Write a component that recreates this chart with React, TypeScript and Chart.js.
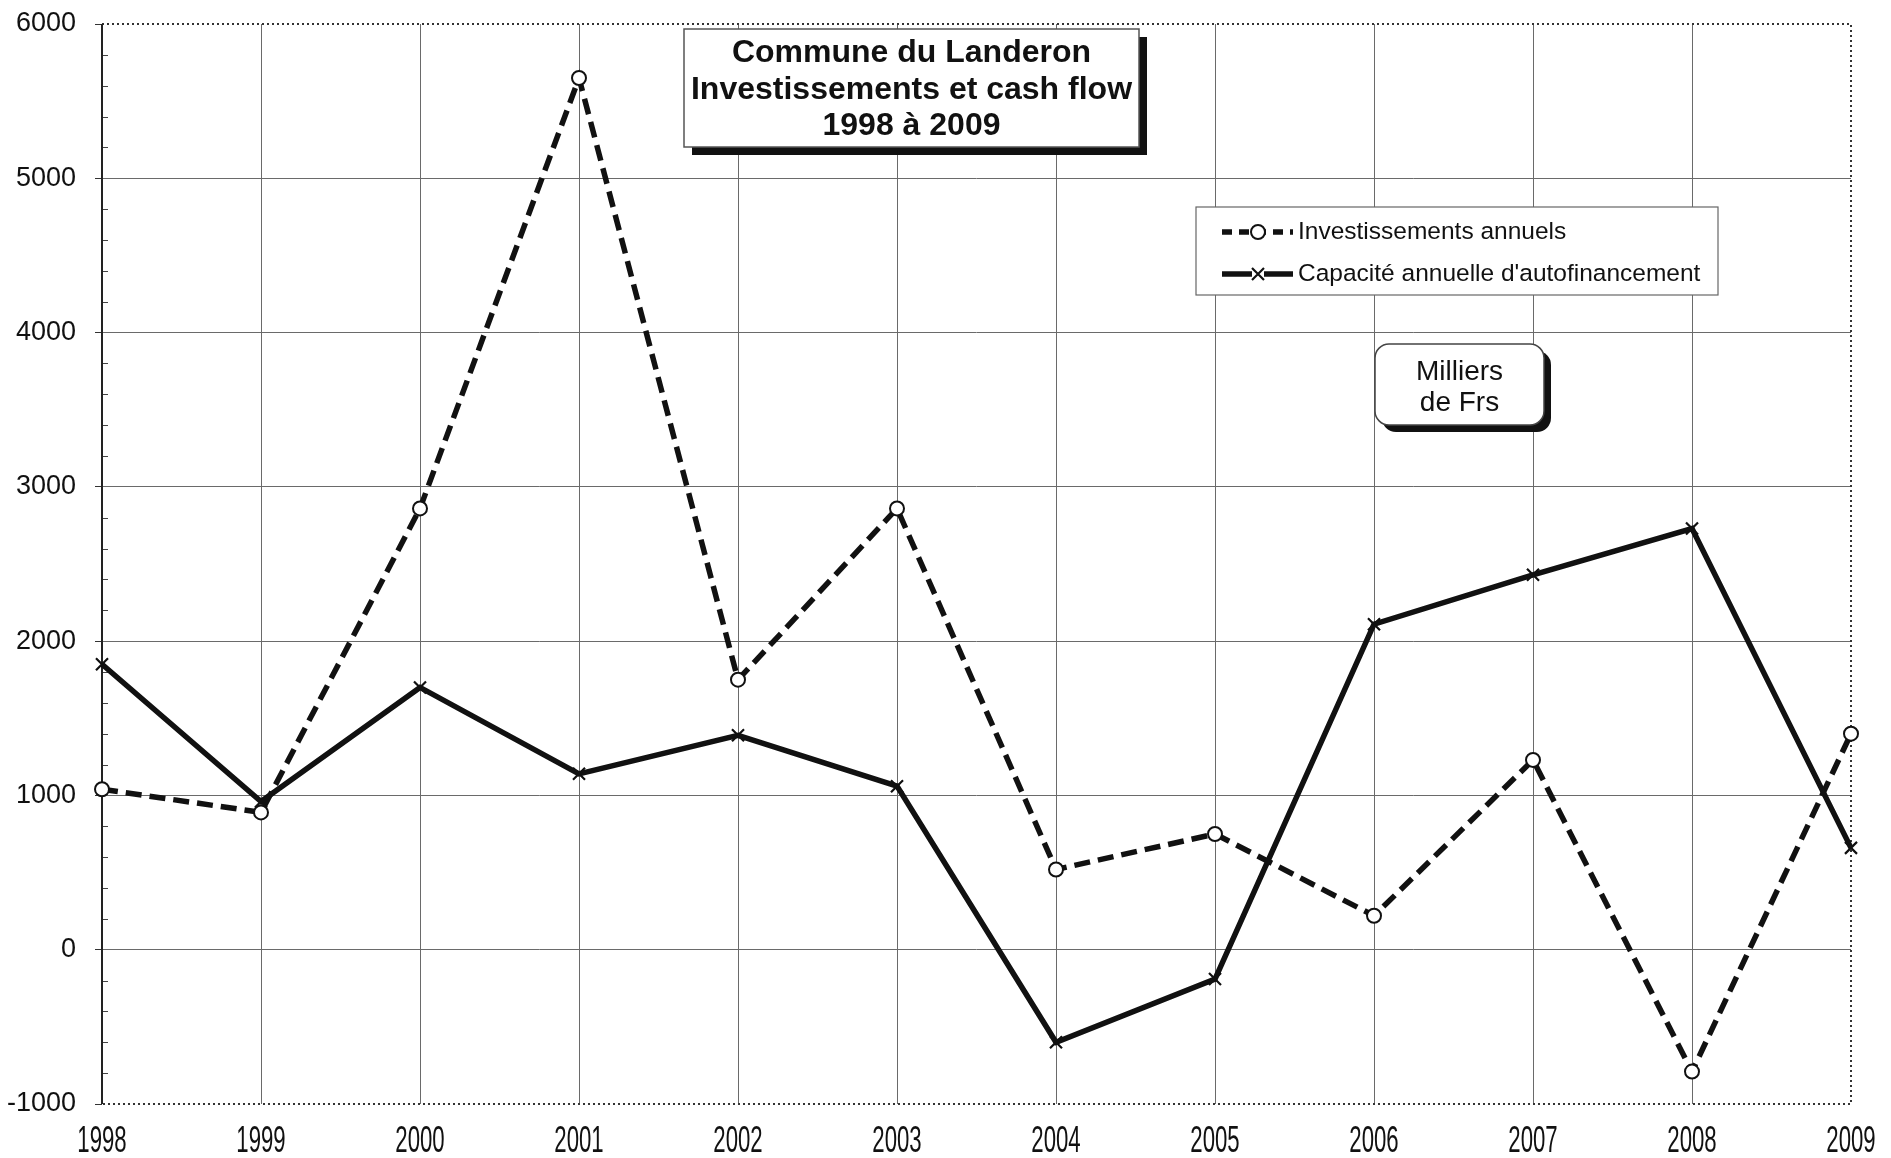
import React, { useEffect, useRef } from "react";
import { Chart, registerables } from "chart.js";

Chart.register(...registerables);

const years = ["1998", "1999", "2000", "2001", "2002", "2003", "2004", "2005", "2006", "2007", "2008", "2009"];
const investissements = [1040, 890, 2860, 5650, 1750, 2860, 520, 750, 220, 1230, -790, 1400];
const capacite = [1850, 960, 1700, 1140, 1390, 1060, -600, -190, 2110, 2430, 2730, 660];
const yMin = -1000;
const yMax = 6000;
const yStep = 1000;
const yMinorStep = 200;

const titleLines = ["Commune du Landeron", "Investissements et cash flow", "1998 à 2009"];
const unitLines = ["Milliers", "de Frs"];
const legendLabels = ["Investissements annuels", "Capacité annuelle d'autofinancement"];

const FONT = "'Liberation Sans', Arial, sans-serif";
const INK = "#111";

const decorPlugin = {
  id: "decor",
  beforeDatasetsDraw(chart: any) {
    const { ctx, chartArea: a, scales } = chart;
    const y = scales.y;
    ctx.save();
    // minor ticks
    ctx.strokeStyle = "#444";
    ctx.lineWidth = 1;
    for (let v = yMin; v <= yMax; v += yMinorStep) {
      if (v % yStep === 0) continue;
      const py = Math.round(y.getPixelForValue(v)) + 0.5;
      ctx.beginPath();
      ctx.moveTo(a.left, py);
      ctx.lineTo(a.left + 6, py);
      ctx.stroke();
    }
    // dotted top/right/bottom borders
    ctx.strokeStyle = "#333";
    ctx.lineWidth = 2;
    ctx.setLineDash([2, 3]);
    ctx.beginPath();
    ctx.moveTo(a.left, a.top);
    ctx.lineTo(a.right, a.top);
    ctx.lineTo(a.right, a.bottom);
    ctx.lineTo(a.left, a.bottom);
    ctx.stroke();
    ctx.setLineDash([]);
    // solid left axis
    ctx.strokeStyle = "#222";
    ctx.lineWidth = 2;
    ctx.beginPath();
    ctx.moveTo(a.left, a.top);
    ctx.lineTo(a.left, a.bottom);
    ctx.stroke();
    ctx.restore();
  },
  afterDraw(chart: any) {
    const { ctx, scales } = chart;
    ctx.save();

    // X axis labels (condensed, as in the original print)
    const xs = scales.x;
    ctx.fillStyle = INK;
    ctx.font = `37px ${FONT}`;
    ctx.textAlign = "center";
    ctx.textBaseline = "middle";
    years.forEach((yr, i) => {
      const px = xs.getPixelForValue(i);
      ctx.save();
      ctx.translate(px, 1142);
      ctx.scale(0.6, 1);
      ctx.fillText(yr, 0, 0);
      ctx.restore();
    });

    // Title box with shadow
    const tx = 684, ty = 29, tw = 455, th = 118;
    ctx.fillStyle = "#111";
    ctx.fillRect(tx + 8, ty + 8, tw, th);
    ctx.fillStyle = "#fff";
    ctx.fillRect(tx, ty, tw, th);
    ctx.strokeStyle = "#555";
    ctx.lineWidth = 1.5;
    ctx.strokeRect(tx, ty, tw, th);
    ctx.fillStyle = INK;
    ctx.font = `bold 32px ${FONT}`;
    ctx.textAlign = "center";
    ctx.textBaseline = "alphabetic";
    const baselines = [62, 99, 135];
    titleLines.forEach((t, i) => ctx.fillText(t, tx + tw / 2, baselines[i]));

    // Legend box
    const lx = 1196, ly = 207, lw = 522, lh = 88;
    ctx.fillStyle = "#fff";
    ctx.fillRect(lx, ly, lw, lh);
    ctx.strokeStyle = "#666";
    ctx.lineWidth = 1.2;
    ctx.strokeRect(lx, ly, lw, lh);
    const rows = [232, 274];
    const sx0 = 1222, sx1 = 1293, sm = 1258;
    // row 1: dashed with circle
    ctx.strokeStyle = INK;
    ctx.lineWidth = 5.5;
    ctx.setLineDash([10, 7]);
    ctx.beginPath();
    ctx.moveTo(sx0, rows[0]);
    ctx.lineTo(sx1, rows[0]);
    ctx.stroke();
    ctx.setLineDash([]);
    ctx.beginPath();
    ctx.arc(sm, rows[0], 7, 0, Math.PI * 2);
    ctx.fillStyle = "#fff";
    ctx.fill();
    ctx.lineWidth = 2;
    ctx.stroke();
    // row 2: solid with X
    ctx.lineWidth = 5.5;
    ctx.beginPath();
    ctx.moveTo(sx0, rows[1]);
    ctx.lineTo(sx1, rows[1]);
    ctx.stroke();
    ctx.fillStyle = "#fff";
    ctx.fillRect(sm - 6, rows[1] - 4, 12, 8);
    ctx.lineWidth = 2.2;
    ctx.beginPath();
    ctx.moveTo(sm - 6, rows[1] - 6);
    ctx.lineTo(sm + 6, rows[1] + 6);
    ctx.moveTo(sm + 6, rows[1] - 6);
    ctx.lineTo(sm - 6, rows[1] + 6);
    ctx.stroke();
    ctx.fillStyle = INK;
    ctx.font = `24.5px ${FONT}`;
    ctx.textAlign = "left";
    ctx.textBaseline = "middle";
    legendLabels.forEach((t, i) => ctx.fillText(t, 1298, rows[i]));

    // Unit box (rounded, with shadow)
    const ux = 1375, uy = 344, uw = 169, uh = 81, r = 14;
    ctx.fillStyle = "#111";
    ctx.beginPath();
    ctx.roundRect(ux + 7, uy + 7, uw, uh, r);
    ctx.fill();
    ctx.fillStyle = "#fff";
    ctx.beginPath();
    ctx.roundRect(ux, uy, uw, uh, r);
    ctx.fill();
    ctx.strokeStyle = "#444";
    ctx.lineWidth = 1.5;
    ctx.stroke();
    ctx.fillStyle = INK;
    ctx.font = `28px ${FONT}`;
    ctx.textAlign = "center";
    ctx.textBaseline = "middle";
    ctx.fillText(unitLines[0], ux + uw / 2, 372);
    ctx.fillText(unitLines[1], ux + uw / 2, 403);

    ctx.restore();
  },
};

export default function App() {
  const ref = useRef<HTMLCanvasElement | null>(null);
  useEffect(() => {
    if (!ref.current) return;
    const chart = new Chart(ref.current, {
      type: "line",
      data: {
        labels: years,
        datasets: [
          {
            label: legendLabels[0],
            data: investissements,
            borderColor: INK,
            borderWidth: 5.5,
            borderDash: [16, 8],
            pointStyle: "circle",
            pointRadius: 7,
            pointBorderWidth: 2,
            pointBackgroundColor: "#fff",
            pointBorderColor: INK,
            tension: 0,
            order: 1,
          },
          {
            label: legendLabels[1],
            data: capacite,
            borderColor: INK,
            borderWidth: 5.5,
            pointStyle: "crossRot",
            pointRadius: 8.5,
            pointBorderWidth: 2.2,
            pointBorderColor: INK,
            pointBackgroundColor: INK,
            tension: 0,
            order: 0,
          },
        ],
      },
      options: {
        responsive: false,
        animation: false,
        layout: { padding: { left: 0, right: 40, top: 24, bottom: 0 } },
        plugins: {
          legend: { display: false },
          title: { display: false },
          tooltip: { enabled: false },
        },
        scales: {
          x: {
            type: "category",
            offset: false,
            border: { display: false },
            grid: {
              offset: false,
              color: (c: any) => (c.index === 0 || c.index === years.length - 1 ? "rgba(0,0,0,0)" : "#6a6a6a"),
              lineWidth: 1,
              drawTicks: false,
            },
            ticks: {
              display: false,
              autoSkip: false,
            },
            afterFit: (s: any) => {
              s.height = 54;
              s.paddingLeft = 0;
              s.paddingRight = 0;
            },
          },
          y: {
            min: yMin,
            max: yMax,
            border: { display: false },
            grid: {
              color: (c: any) => (c.tick && (c.tick.value === yMin || c.tick.value === yMax) ? "rgba(0,0,0,0)" : "#6a6a6a"),
              tickColor: "#333",
              lineWidth: 1,
              tickLength: 7,
            },
            ticks: {
              stepSize: yStep,
              color: INK,
              font: { family: FONT, size: 27 },
              padding: 19,
              callback: (v: any) => String(v),
            },
            afterFit: (s: any) => {
              s.width = 102;
              s.paddingTop = 0;
              s.paddingBottom = 0;
            },
          },
        },
      },
      plugins: [decorPlugin],
    });
    return () => chart.destroy();
  }, []);

  return (
    <div style={{ position: "fixed", left: 0, top: 0, width: 1891, height: 1158, background: "#fff" }}>
      <canvas ref={ref} width={1891} height={1158} style={{ display: "block" }} />
    </div>
  );
}
